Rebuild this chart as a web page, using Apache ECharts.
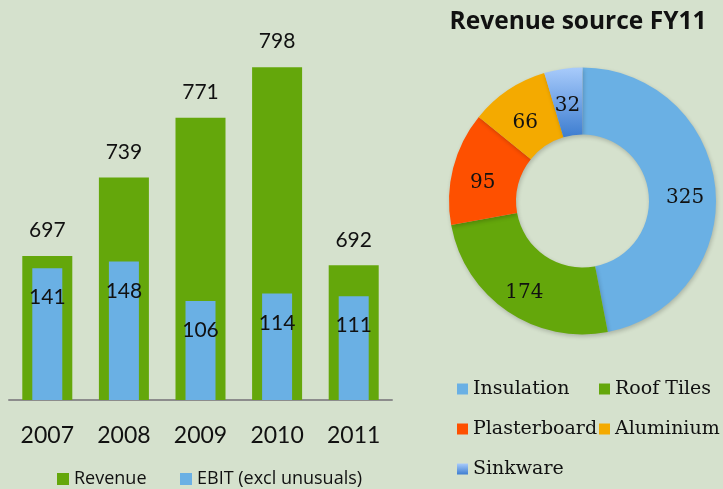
<!DOCTYPE html>
<html>
<head>
<meta charset="utf-8">
<script src="https://cdn.jsdelivr.net/npm/echarts@6/dist/echarts.min.js"></script>
<style>
html,body{margin:0;padding:0;background:#d5e1cd;}
#chart{width:723px;height:489px;}
</style>
</head>
<body>
<div id="chart"></div>
<script>
var years = ['2007', '2008', '2009', '2010', '2011'];
var revenue = [697, 739, 771, 798, 692];
var ebit = [141, 148, 106, 114, 111];
var sourceNames = ['Insulation', 'Roof Tiles', 'Plasterboard', 'Aluminium', 'Sinkware'];
var sourceValues = [325, 174, 95, 66, 32];

var GREEN = '#64a70b', BLUE = '#6ab0e4', ORANGE = '#fe5000', GOLD = '#f4aa00';
var sinkGrad = new echarts.graphic.LinearGradient(0, 0, 0, 1, [
  {offset: 0, color: '#a8cbfb'}, {offset: 1, color: '#3d7dd0'}
]);
var sourceColors = [BLUE, GREEN, ORANGE, GOLD, sinkGrad];

var sans = 'Lato, "Liberation Sans", sans-serif';
var sans2 = '"Open Sans", "Liberation Sans", sans-serif';
var serif = '"DejaVu Serif", serif';

var chart = echarts.init(document.getElementById('chart'), null, {renderer: 'canvas'});
chart.setOption({
  backgroundColor: '#d5e1cd',
  animation: false,
  title: {
    text: 'Revenue source FY11',
    left: 578, top: 10, textAlign: 'center', padding: 0,
    textStyle: {fontFamily: sans2, fontWeight: 'bold', fontSize: 24.5, color: '#111'}
  },
  grid: {left: 9, width: 383, top: 26, height: 374, containLabel: false},
  xAxis: [
    {type: 'category', data: years, gridIndex: 0,
     axisLine: {lineStyle: {color: '#8c8c8c', width: 2}},
     axisTick: {show: false},
     axisLabel: {fontFamily: sans, fontSize: 23, color: '#111', margin: 24}},
    {type: 'category', data: years, gridIndex: 0, show: false}
  ],
  yAxis: [
    {type: 'value', min: 620, max: 820, show: false, splitLine: {show: false}},
    {type: 'value', min: 0, max: 400, show: false, splitLine: {show: false}}
  ],
  legend: [
    {data: ['Revenue'], left: 57, top: 470, padding: 0, icon: 'rect', itemWidth: 12, itemHeight: 12,
     textStyle: {fontFamily: sans2, fontSize: 18, color: '#111'}},
    {data: ['EBIT (excl unusuals)'], left: 180, top: 470, padding: 0, icon: 'rect', itemWidth: 12, itemHeight: 12,
     textStyle: {fontFamily: sans2, fontSize: 18, color: '#111'}},
    {data: ['Insulation', 'Plasterboard', 'Sinkware'], orient: 'vertical', left: 457, top: 379, padding: 0,
     icon: 'rect', itemWidth: 11, itemHeight: 11, itemGap: 20,
     textStyle: {fontFamily: serif, fontSize: 19, lineHeight: 20, color: '#111'}},
    {data: ['Roof Tiles', 'Aluminium'], orient: 'vertical', left: 599, top: 379, padding: 0,
     icon: 'rect', itemWidth: 11, itemHeight: 11, itemGap: 20,
     textStyle: {fontFamily: serif, fontSize: 19, lineHeight: 20, color: '#111'}}
  ],
  series: [
    {name: 'Revenue', type: 'bar', xAxisIndex: 0, yAxisIndex: 0, data: revenue,
     barWidth: 50, itemStyle: {color: GREEN},
     label: {show: true, position: 'top', distance: 15, fontFamily: sans, fontSize: 21, color: '#111'}},
    {name: 'EBIT (excl unusuals)', type: 'bar', xAxisIndex: 1, yAxisIndex: 1, data: ebit,
     barWidth: 30, itemStyle: {color: BLUE},
     label: {show: true, position: 'insideTop', distance: 19, fontFamily: sans, fontSize: 21, color: '#111'}},
    {name: 'Revenue source FY11', type: 'pie', center: [582.5, 201], radius: [66.5, 133.5],
     startAngle: 90, clockwise: true, avoidLabelOverlap: false,
     data: sourceNames.map(function (n, i) {
       return {name: n, value: sourceValues[i], itemStyle: {color: sourceColors[i]}};
     }),
     itemStyle: {shadowBlur: 4, shadowOffsetX: 1, shadowOffsetY: 2, shadowColor: 'rgba(0,0,0,0.2)'},
     label: {show: true, position: 'inside', formatter: '{c}', fontFamily: serif, fontSize: 20,
             color: '#111', offset: [0, 7]},
     labelLine: {show: false},
     emphasis: {disabled: true}}
  ]
});
</script>
</body>
</html>
